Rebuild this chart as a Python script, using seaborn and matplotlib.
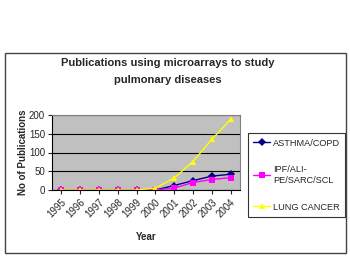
import matplotlib
matplotlib.use("Agg")
import matplotlib.pyplot as plt
import seaborn as sns
import pandas as pd
from matplotlib.patches import Rectangle

years = ["1995", "1996", "1997", "1998", "1999", "2000", "2001", "2002", "2003", "2004"]
asthma = [0, 0, 0, 0, 0, 0, 12, 25, 37, 42]
ipf = [0, 0, 0, 0, 0, 0, 5, 20, 28, 33]
lung = [0, 0, 0, 0, 0, 5, 32, 76, 135, 188]
series_names = ["ASTHMA/COPD", "IPF/ALI-\nPE/SARC/SCL", "LUNG CANCER"]

rows = []
for name, vals in zip(series_names, [asthma, ipf, lung]):
    for i, v in enumerate(vals):
        rows.append({"idx": i, "value": v, "series": name})
df = pd.DataFrame(rows)

sns.set_style("white")
plt.rcParams["font.family"] = ["Liberation Sans", "DejaVu Sans"]

W, H = 350, 258
fig = plt.figure(figsize=(W / 100, H / 100), dpi=100)
fig.patch.set_facecolor("white")

# outer frame
fig.patches.append(Rectangle((5 / W, 5 / H), 341 / W, 200 / H, transform=fig.transFigure,
                             fill=False, edgecolor="#444444", linewidth=1.0))

ax = fig.add_axes([52 / W, (H - 190) / H, 188 / W, 75 / H])
ax.set_facecolor("#C0C0C0")

palette = {series_names[0]: "#000080", series_names[1]: "#FF00FF", series_names[2]: "#FFFF00"}
markers = {series_names[0]: "D", series_names[1]: "s", series_names[2]: "^"}
sns.lineplot(data=df, x="idx", y="value", hue="series", style="series",
             palette=palette, markers=markers, dashes=False, markersize=4.5,
             markeredgewidth=0, linewidth=1.0, ax=ax, legend=True)

ax.set_xlim(-0.5, 9.5)
ax.set_ylim(0, 200)
ax.set_yticks([0, 50, 100, 150, 200])
ax.set_xticks(range(len(years)))
ax.set_xticklabels(years, rotation=45, ha="right", rotation_mode="anchor", fontsize=7)
ax.tick_params(axis="y", labelsize=7, length=3, left=True, pad=2)
ax.tick_params(axis="x", length=3, bottom=True, pad=2)
ax.yaxis.grid(True, color="black", linewidth=0.8)
ax.set_axisbelow(True)
for s in ["top", "right"]:
    ax.spines[s].set_color("#808080")
for s in ["left", "bottom"]:
    ax.spines[s].set_color("black")
ax.set_xlabel("Year", fontsize=7, fontweight="bold", labelpad=9)
ax.set_ylabel("No of Publications", fontsize=7, fontweight="bold", labelpad=1)

leg = ax.legend(loc="upper left", bbox_to_anchor=(248 / W, (H - 133) / H),
                bbox_transform=fig.transFigure, frameon=True, fancybox=False,
                fontsize=6.6, handlelength=1.85, handletextpad=0.25, labelspacing=1.95,
                borderpad=0.6, borderaxespad=0, title=None)
leg.get_frame().set_edgecolor("black")
leg.get_frame().set_linewidth(0.8)

fig.text(168 / W, 1 - 63 / H, "Publications using microarrays to study", ha="center", va="center",
         fontsize=8, fontweight="bold")
fig.text(168 / W, 1 - 80 / H, "pulmonary diseases", ha="center", va="center",
         fontsize=8, fontweight="bold")

fig.savefig("out.png", dpi=100)
